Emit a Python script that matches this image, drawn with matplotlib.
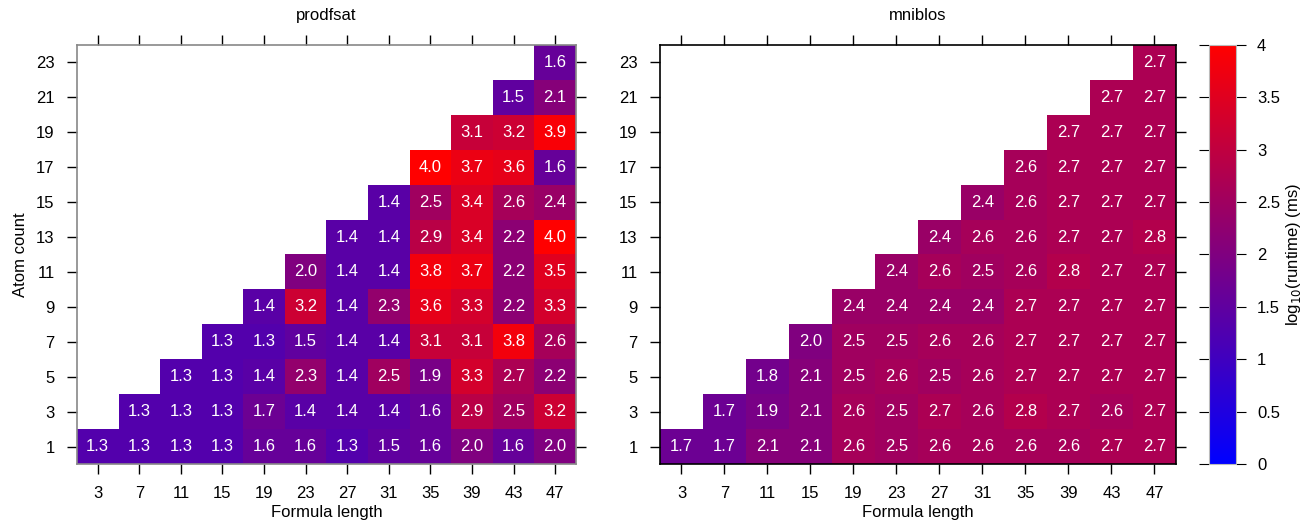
import matplotlib
matplotlib.use("Agg")
import matplotlib.pyplot as plt
import numpy as np
from matplotlib.colors import LinearSegmentedColormap

plt.rcParams['font.family'] = ['Liberation Sans', 'DejaVu Sans']

formula_length = [3, 7, 11, 15, 19, 23, 27, 31, 35, 39, 43, 47]
atom_count = [1, 3, 5, 7, 9, 11, 13, 15, 17, 19, 21, 23]

# rows from atom count 1 upward; each row starts at column index = row index
prodfsat = [
    [1.3, 1.3, 1.3, 1.3, 1.6, 1.6, 1.3, 1.5, 1.6, 2.0, 1.6, 2.0],
    [1.3, 1.3, 1.3, 1.7, 1.4, 1.4, 1.4, 1.6, 2.9, 2.5, 3.2],
    [1.3, 1.3, 1.4, 2.3, 1.4, 2.5, 1.9, 3.3, 2.7, 2.2],
    [1.3, 1.3, 1.5, 1.4, 1.4, 3.1, 3.1, 3.8, 2.6],
    [1.4, 3.2, 1.4, 2.3, 3.6, 3.3, 2.2, 3.3],
    [2.0, 1.4, 1.4, 3.8, 3.7, 2.2, 3.5],
    [1.4, 1.4, 2.9, 3.4, 2.2, 4.0],
    [1.4, 2.5, 3.4, 2.6, 2.4],
    [4.0, 3.7, 3.6, 1.6],
    [3.1, 3.2, 3.9],
    [1.5, 2.1],
    [1.6],
]
mniblos = [
    [1.7, 1.7, 2.1, 2.1, 2.6, 2.5, 2.6, 2.6, 2.6, 2.6, 2.7, 2.7],
    [1.7, 1.9, 2.1, 2.6, 2.5, 2.7, 2.6, 2.8, 2.7, 2.6, 2.7],
    [1.8, 2.1, 2.5, 2.6, 2.5, 2.6, 2.7, 2.7, 2.7, 2.7],
    [2.0, 2.5, 2.5, 2.6, 2.6, 2.7, 2.7, 2.7, 2.7],
    [2.4, 2.4, 2.4, 2.4, 2.7, 2.7, 2.7, 2.7],
    [2.4, 2.6, 2.5, 2.6, 2.8, 2.7, 2.7],
    [2.4, 2.6, 2.6, 2.7, 2.7, 2.8],
    [2.4, 2.6, 2.7, 2.7, 2.7],
    [2.6, 2.7, 2.7, 2.7],
    [2.7, 2.7, 2.7],
    [2.7, 2.7],
    [2.7],
]
titles = ["prodfsat", "mniblos"]

cmap = LinearSegmentedColormap.from_list("br", [(0, 0, 1), (1, 0, 0)])
cmap.set_bad((1, 1, 1, 0))


def to_grid(rows):
    n = len(formula_length)
    grid = np.full((len(atom_count), n), np.nan)
    for i, row in enumerate(rows):
        grid[i, n - len(row):] = row
    return np.ma.masked_invalid(grid)


def draw_panel(ax, rows, title, frame_color):
    grid = to_grid(rows)
    x = np.array(formula_length)
    y = np.array(atom_count)
    xe = np.append(x - 2, x[-1] + 2)
    ye = np.append(y - 1, y[-1] + 1)
    mesh = ax.pcolormesh(xe, ye, grid, cmap=cmap, vmin=0, vmax=4)
    for i in range(len(y)):
        for j in range(len(x)):
            if not np.ma.is_masked(grid[i, j]):
                ax.text(x[j], y[i], f"{grid[i, j]:.1f}", ha='center', va='center',
                        color='white', fontsize=12)
    ax.set_xlim(xe[0], xe[-1])
    ax.set_ylim(ye[0], ye[-1])
    ax.set_xticks(x)
    ax.set_yticks(y)
    ax.tick_params(direction='out', length=7, width=1, top=True, right=True,
                   labelsize=12, pad=9, color='black')
    for s in ax.spines.values():
        s.set_color(frame_color)
        s.set_linewidth(1.2)
    ax.set_title(title, fontsize=12, pad=18)
    ax.set_xlabel("Formula length", fontsize=12, labelpad=3)
    return mesh


fig = plt.figure(figsize=(13.04, 5.2), dpi=100)
ax1 = fig.add_axes([0.0590, 0.1077, 0.3827, 0.8058])
ax2 = fig.add_axes([0.5061, 0.1077, 0.3957, 0.8058])
cax = fig.add_axes([0.9272, 0.1077, 0.0207, 0.8058])

draw_panel(ax1, prodfsat, titles[0], '#888888')
mesh = draw_panel(ax2, mniblos, titles[1], 'black')
ax1.set_ylabel("Atom count", fontsize=12, labelpad=6)

cb = fig.colorbar(mesh, cax=cax, ticks=np.arange(0, 4.01, 0.5))
cb.ax.set_yticklabels(["0", "0.5", "1", "1.5", "2", "2.5", "3", "3.5", "4"])
cb.ax.tick_params(direction='out', length=7, left=True, right=True, labelsize=12, pad=8)
cb.outline.set_edgecolor('#bbbbbb')
cb.set_label("log$_{10}$(runtime) (ms)", fontsize=12, labelpad=3)

fig.savefig("out.png", dpi=100)
